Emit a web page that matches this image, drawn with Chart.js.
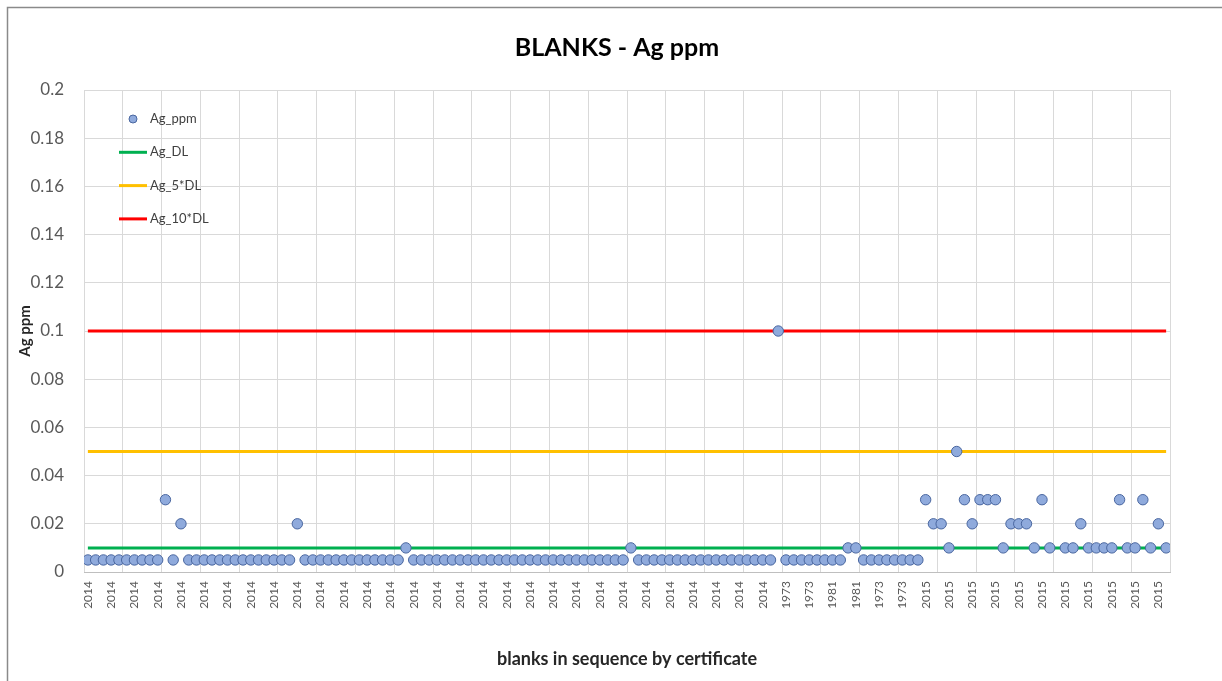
<!DOCTYPE html>
<html>
<head>
<meta charset="utf-8">
<title>BLANKS - Ag ppm</title>
<script src="https://cdn.jsdelivr.net/npm/chart.js@4/dist/chart.umd.min.js"></script>
<style>
  html, body { margin: 0; padding: 0; background: #fff; }
  #wrap { width: 1222px; height: 681px; }
</style>
</head>
<body>
<div id="wrap"><canvas id="chart" width="1222" height="681"></canvas></div>
<script>
// Ag results of the blanks, in the order they were run
const agPpm = [
  0.005, 0.005, 0.005, 0.005, 0.005, 0.005, 0.005, 0.005, 0.005, 0.005,
  0.03, 0.005, 0.02, 0.005, 0.005, 0.005, 0.005, 0.005, 0.005, 0.005,
  0.005, 0.005, 0.005, 0.005, 0.005, 0.005, 0.005, 0.02, 0.005, 0.005,
  0.005, 0.005, 0.005, 0.005, 0.005, 0.005, 0.005, 0.005, 0.005, 0.005,
  0.005, 0.01, 0.005, 0.005, 0.005, 0.005, 0.005, 0.005, 0.005, 0.005,
  0.005, 0.005, 0.005, 0.005, 0.005, 0.005, 0.005, 0.005, 0.005, 0.005,
  0.005, 0.005, 0.005, 0.005, 0.005, 0.005, 0.005, 0.005, 0.005, 0.005,
  0.01, 0.005, 0.005, 0.005, 0.005, 0.005, 0.005, 0.005, 0.005, 0.005,
  0.005, 0.005, 0.005, 0.005, 0.005, 0.005, 0.005, 0.005, 0.005, 0.1,
  0.005, 0.005, 0.005, 0.005, 0.005, 0.005, 0.005, 0.005, 0.01, 0.01,
  0.005, 0.005, 0.005, 0.005, 0.005, 0.005, 0.005, 0.005, 0.03, 0.02,
  0.02, 0.01, 0.05, 0.03, 0.02, 0.03, 0.03, 0.03, 0.01, 0.02,
  0.02, 0.02, 0.01, 0.03, 0.01, null, 0.01, 0.01, 0.02, 0.01,
  0.01, 0.01, 0.01, 0.03, 0.01, 0.01, 0.03, 0.01, 0.02, 0.01
];

// certificate year of each blank
const sampleYears = [
  '2014', '2014', '2014', '2014', '2014', '2014', '2014', '2014', '2014', '2014',
  '2014', '2014', '2014', '2014', '2014', '2014', '2014', '2014', '2014', '2014',
  '2014', '2014', '2014', '2014', '2014', '2014', '2014', '2014', '2014', '2014',
  '2014', '2014', '2014', '2014', '2014', '2014', '2014', '2014', '2014', '2014',
  '2014', '2014', '2014', '2014', '2014', '2014', '2014', '2014', '2014', '2014',
  '2014', '2014', '2014', '2014', '2014', '2014', '2014', '2014', '2014', '2014',
  '2014', '2014', '2014', '2014', '2014', '2014', '2014', '2014', '2014', '2014',
  '2014', '2014', '2014', '2014', '2014', '2014', '2014', '2014', '2014', '2014',
  '2014', '2014', '2014', '2014', '2014', '2014', '2014', '2014', '2014', '2014',
  '1973', '1973', '1973', '1973', '1973', '1973', '1981', '1981', '1981', '1981',
  '1973', '1973', '1973', '1973', '1973', '1973', '1973', '1973', '2015', '2015',
  '2015', '2015', '2015', '2015', '2015', '2015', '2015', '2015', '2015', '2015',
  '2015', '2015', '2015', '2015', '2015', '2015', '2015', '2015', '2015', '2015',
  '2015', '2015', '2015', '2015', '2015', '2015', '2015', '2015', '2015', '2015'
];

// detection limit lines
const limitNames = ['Ag_DL', 'Ag_5*DL', 'Ag_10*DL'];
const limitValues = [0.01, 0.05, 0.1];
const limitColors = ['#00B050', '#FFC000', '#FF0000'];

const yTicks = [0, 0.02, 0.04, 0.06, 0.08, 0.1, 0.12, 0.14, 0.16, 0.18, 0.2];

const labelEvery = 3;   // a year label on every 3rd blank
const gridEvery = 5;    // a vertical gridline every 5 blanks

Chart.defaults.font.family = 'Lato, "Open Sans", sans-serif';
Chart.defaults.color = '#595959';

const lastIdx = agPpm.length - 1;

const limitSets = limitValues.map((v, i) => ({
  label: limitNames[i],
  data: [{x: 0, y: v}, {x: lastIdx, y: v}],
  showLine: true,
  borderColor: limitColors[i],
  backgroundColor: limitColors[i],
  borderWidth: 3,
  pointRadius: 0,
  pointHoverRadius: 0
}));

// border round the whole chart
const frame = {
  id: 'frame',
  beforeDraw(chart) {
    const ctx = chart.ctx;
    ctx.save();
    ctx.fillStyle = '#fff';
    ctx.fillRect(0, 0, chart.width, chart.height);
    ctx.strokeStyle = '#8a8a8a';
    ctx.lineWidth = 1.5;
    ctx.strokeRect(7.5, 7.5, chart.width + 50, chart.height + 50);
    ctx.restore();
  }
};

// legend sitting inside the plot, top left
const insideLegend = {
  id: 'insideLegend',
  afterDatasetsDraw(chart) {
    const {ctx, chartArea} = chart;
    ctx.save();
    ctx.font = '13px Lato, "Open Sans", sans-serif';
    ctx.textBaseline = 'middle';
    chart.data.datasets.forEach((ds, i) => {
      const y = chartArea.top + 29 + i * 33.3;
      const cx = chartArea.left + 49;
      if (ds.showLine) {
        ctx.strokeStyle = ds.borderColor;
        ctx.lineWidth = 3;
        ctx.beginPath();
        ctx.moveTo(cx - 14, y);
        ctx.lineTo(cx + 14, y);
        ctx.stroke();
      } else {
        ctx.fillStyle = ds.backgroundColor;
        ctx.strokeStyle = ds.borderColor;
        ctx.lineWidth = 1;
        ctx.beginPath();
        ctx.arc(cx, y, 4, 0, Math.PI * 2);
        ctx.fill();
        ctx.stroke();
      }
      ctx.fillStyle = '#404040';
      ctx.fillText(ds.label, chartArea.left + 66, y);
    });
    ctx.restore();
  }
};

new Chart(document.getElementById('chart'), {
  type: 'scatter',
  data: {
    datasets: [
      {
        label: 'Ag_ppm',
        data: agPpm.map((y, i) => ({x: i, y: y})),
        backgroundColor: '#8FAADC',
        borderColor: '#4A67A0',
        borderWidth: 1,
        pointRadius: 5.2,
        pointHoverRadius: 5.2
      },
      ...limitSets
    ]
  },
  options: {
    responsive: false,
    animation: false,
    events: [],
    layout: { padding: { left: 12, right: 0, top: 0, bottom: 0 } },
    plugins: {
      legend: { display: false },
      tooltip: { enabled: false },
      title: {
        display: true,
        text: 'BLANKS - Ag ppm',
        color: '#000',
        font: { size: 25, weight: 'bold' },
        padding: { top: 33, bottom: 27 }
      }
    },
    scales: {
      x: {
        type: 'linear',
        min: -0.5,
        max: lastIdx + 0.5,
        afterBuildTicks(scale) {
          const vals = [];
          for (let i = 0; i <= lastIdx; i += labelEvery) vals.push(i);
          for (let g = -0.5; g <= lastIdx + 0.5; g += gridEvery) vals.push(g);
          vals.sort((a, b) => a - b);
          scale.ticks = vals.map(v => ({value: v}));
        },
        afterFit(scale) { scale.height = 109; },
        ticks: {
          autoSkip: false,
          minRotation: 90,
          maxRotation: 90,
          padding: 9,
          color: '#595959',
          font: { size: 12 },
          callback: (v) => Number.isInteger(v) ? sampleYears[v] : ''
        },
        grid: {
          drawTicks: false,
          lineWidth: 1,
          color: (ctx) => ctx.tick && !Number.isInteger(ctx.tick.value) ? '#d9d9d9' : 'rgba(0,0,0,0)'
        },
        border: { display: true, color: '#bfbfbf', width: 1 },
        title: {
          display: true,
          text: 'blanks in sequence by certificate',
          color: '#262626',
          font: { size: 18, weight: 'bold' },
          padding: { top: 0, bottom: 11 }
        }
      },
      y: {
        min: 0,
        max: 0.2,
        afterBuildTicks(scale) { scale.ticks = yTicks.map(v => ({value: v})); },
        afterFit(scale) { scale.width = 72; },
        ticks: {
          padding: 20,
          color: '#595959',
          font: { size: 17 },
          callback: (v) => String(+v.toFixed(2))
        },
        grid: { drawTicks: false, color: '#d9d9d9' },
        border: { display: false },
        title: {
          display: true,
          text: 'Ag ppm',
          color: '#262626',
          font: { size: 15, weight: 'bold' },
          padding: { top: 4, bottom: 0 }
        }
      },
      yRight: {
        position: 'right',
        display: true,
        grid: { display: false },
        ticks: { display: false },
        border: { display: false },
        afterFit(scale) { scale.width = 52; }
      }
    }
  },
  plugins: [frame, insideLegend]
});
</script>
</body>
</html>
